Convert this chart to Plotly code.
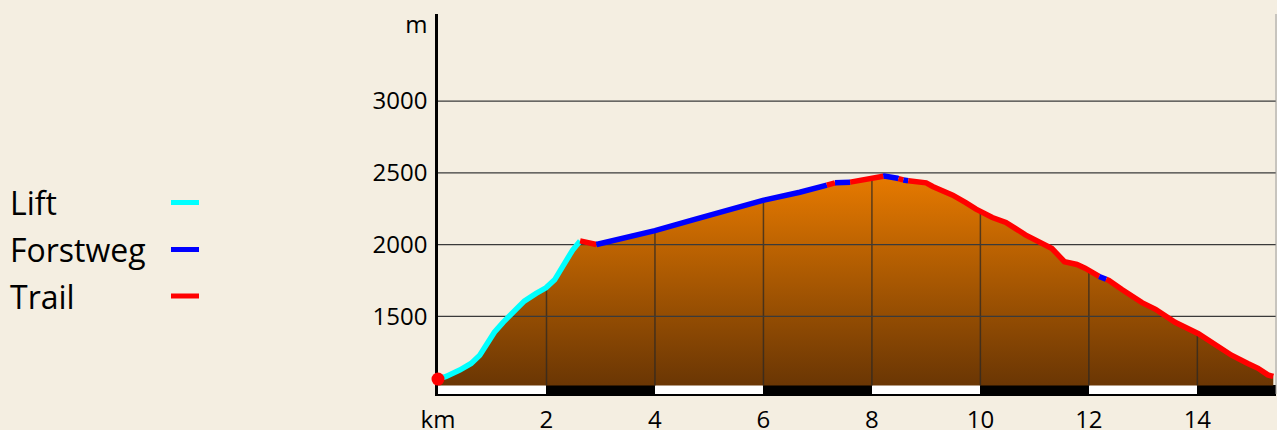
import numpy as np
import plotly.graph_objects as go

# ---------------- data ----------------
km = [0.00, 0.15, 0.40, 0.61, 0.77, 0.89, 1.04, 1.20, 1.38, 1.59, 1.81, 1.99,
      2.15, 2.33, 2.48, 2.62, 2.92, 3.48, 4.00, 4.70, 5.32, 5.99, 6.67, 7.03,
      7.16, 7.31, 7.58, 7.99, 8.23, 8.47, 8.56, 8.66, 9.00, 9.12, 9.49, 9.73,
      9.92, 10.22, 10.47, 10.83, 11.20, 11.32, 11.55, 11.78, 11.93, 12.18,
      12.37, 12.61, 12.98, 13.23, 13.35, 13.59, 14.02, 14.33, 14.63, 14.93,
      15.12, 15.30, 15.40]
elev = [1064, 1082, 1127, 1173, 1230, 1299, 1390, 1459, 1527, 1607, 1660, 1699,
        1755, 1870, 1961, 2026, 2001, 2052, 2098, 2173, 2240, 2308, 2365, 2400,
        2413, 2430, 2434, 2458, 2478, 2462, 2452, 2445, 2430, 2405, 2345, 2292,
        2247, 2189, 2155, 2068, 2000, 1973, 1881, 1862, 1836, 1780,
        1751, 1687, 1596, 1550, 1516, 1459, 1380, 1299, 1230, 1173,
        1139, 1093, 1082]

# surface segments: start km, end km, type
seg_start = [0.00, 2.62, 2.92, 7.17, 7.32, 7.60, 8.21, 8.49, 8.58, 8.67, 12.19, 12.32]
seg_end   = [2.62, 2.92, 7.17, 7.32, 7.60, 8.21, 8.49, 8.58, 8.67, 12.19, 12.32, 15.40]
seg_type  = ["Lift", "Trail", "Forstweg", "Trail", "Forstweg", "Trail", "Forstweg",
             "Trail", "Forstweg", "Trail", "Forstweg", "Trail"]

legend_names = ["Lift", "Forstweg", "Trail"]
legend_colors = ["#00FFFF", "#0000FF", "#FF0000"]

x_ticks = [0, 2, 4, 6, 8, 10, 12, 14]
x_tick_text = ["km", "2", "4", "6", "8", "10", "12", "14"]
y_grid = [1500, 2000, 2500, 3000]
y_ticks = [1500, 2000, 2500, 3000, 3530]
y_tick_text = ["1500", "2000", "2500", "3000", "m"]

BASE = 1020
Y_MIN, Y_MAX = 960, 3606
X_MIN, X_MAX = 0, 15.45

# ---------------- figure ----------------
BG = "#F4EEE1"
FONT = "Open Sans"
color_of = dict(zip(legend_names, legend_colors))
km_a = np.array(km)
el_a = np.array(elev)

fig = go.Figure()

# scale bar (alternating white/black every 2 km)
bar_centers = [t + 1 for t in x_ticks]
bar_colors = ["white" if i % 2 == 0 else "black" for i in range(len(bar_centers))]
fig.add_trace(go.Bar(x=bar_centers, y=[BASE - Y_MIN] * len(bar_centers), base=Y_MIN,
                     width=2, marker=dict(color=bar_colors, line=dict(width=0)),
                     hoverinfo="skip", showlegend=False))

# baseline + filled profile
fig.add_trace(go.Scatter(x=km, y=[BASE] * len(km), mode="lines",
                         line=dict(width=0), hoverinfo="skip", showlegend=False))
fig.add_trace(go.Scatter(x=km, y=elev, mode="lines", line=dict(width=0),
                         fill="tonexty",
                         fillgradient=dict(type="vertical", start=BASE, stop=max(elev),
                                           colorscale=[[0, "#6a3604"], [1, "#e77a00"]]),
                         hoverinfo="skip", showlegend=False))

# vertical grid lines up to the profile
vx, vy = [], []
for t in x_ticks[1:]:
    vx += [t, t, None]
    vy += [BASE, float(np.interp(t, km_a, el_a)), None]
fig.add_trace(go.Scatter(x=vx, y=vy, mode="lines",
                         line=dict(color="rgba(45,40,35,0.75)", width=1.5),
                         hoverinfo="skip", showlegend=False))

# horizontal grid lines
hx, hy = [], []
for g in y_grid:
    hx += [X_MIN, X_MAX, None]
    hy += [g, g, None]
fig.add_trace(go.Scatter(x=hx, y=hy, mode="lines",
                         line=dict(color="#3a3a3a", width=1.3),
                         hoverinfo="skip", showlegend=False))

# coloured profile line segments
for s, e, t in zip(seg_start, seg_end, seg_type):
    inner = [k for k in km if s < k < e]
    xs = [s] + inner + [e]
    ys = [float(np.interp(v, km_a, el_a)) for v in xs]
    fig.add_trace(go.Scatter(x=xs, y=ys, mode="lines",
                             line=dict(color=color_of[t], width=5.5),
                             hoverinfo="skip", showlegend=False))

# start point
fig.add_trace(go.Scatter(x=[km[0]], y=[elev[0]], mode="markers",
                         marker=dict(color="#FF0000", size=13),
                         cliponaxis=False, hoverinfo="skip", showlegend=False))

# custom legend (text left, line right)
PL, PR, PT, PB = 438, 1276, 14, 394
W, H = 1277, 430
def px_x(p):
    return (p - PL) / (PR - PL)
def px_y(p):
    return (PB - p) / (PB - PT)

legend_y = [202.5, 249.5, 296.0]
annotations = []
shapes = []
for name, col, ly in zip(legend_names, legend_colors, legend_y):
    annotations.append(dict(text=name, xref="paper", yref="paper", x=px_x(8),
                            y=px_y(ly), xanchor="left", yanchor="middle",
                            showarrow=False, font=dict(family=FONT, size=32, color="black")))
    shapes.append(dict(type="line", xref="paper", yref="paper",
                       x0=px_x(171), x1=px_x(199), y0=px_y(ly), y1=px_y(ly),
                       line=dict(color=col, width=5)))

# right frame line
shapes.append(dict(type="line", xref="paper", yref="paper", x0=1, x1=1, y0=0, y1=1,
                   line=dict(color="#9a9a9a", width=1)))

fig.update_layout(
    width=W, height=H,
    margin=dict(l=PL, r=W - PR, t=PT, b=H - PB, autoexpand=False),
    paper_bgcolor=BG, plot_bgcolor=BG,
    showlegend=False,
    bargap=0,
    annotations=annotations,
    shapes=shapes,
    font=dict(family=FONT, size=24, color="black"),
    xaxis=dict(range=[X_MIN, X_MAX], tickvals=x_ticks, ticktext=x_tick_text,
               showgrid=False, zeroline=False, showline=True, linecolor="black",
               linewidth=1.5, ticks="outside", ticklen=3, tickcolor="rgba(0,0,0,0)",
               tickfont=dict(family=FONT, size=24, color="black"), automargin=False,
               fixedrange=True),
    yaxis=dict(range=[Y_MIN, Y_MAX], tickvals=y_ticks, ticktext=y_tick_text,
               showgrid=False, zeroline=False, showline=True, linecolor="black",
               linewidth=2.5, ticks="outside", ticklen=3, tickcolor="rgba(0,0,0,0)",
               tickfont=dict(family=FONT, size=24, color="black"), automargin=False,
               layer="below traces", fixedrange=True),
)

fig.write_html("out.html", config={"displayModeBar": False},
               post_script="document.body.style.margin='0';"
                           "document.body.style.background='" + BG + "';"
                           "document.documentElement.style.overflow='hidden';")
